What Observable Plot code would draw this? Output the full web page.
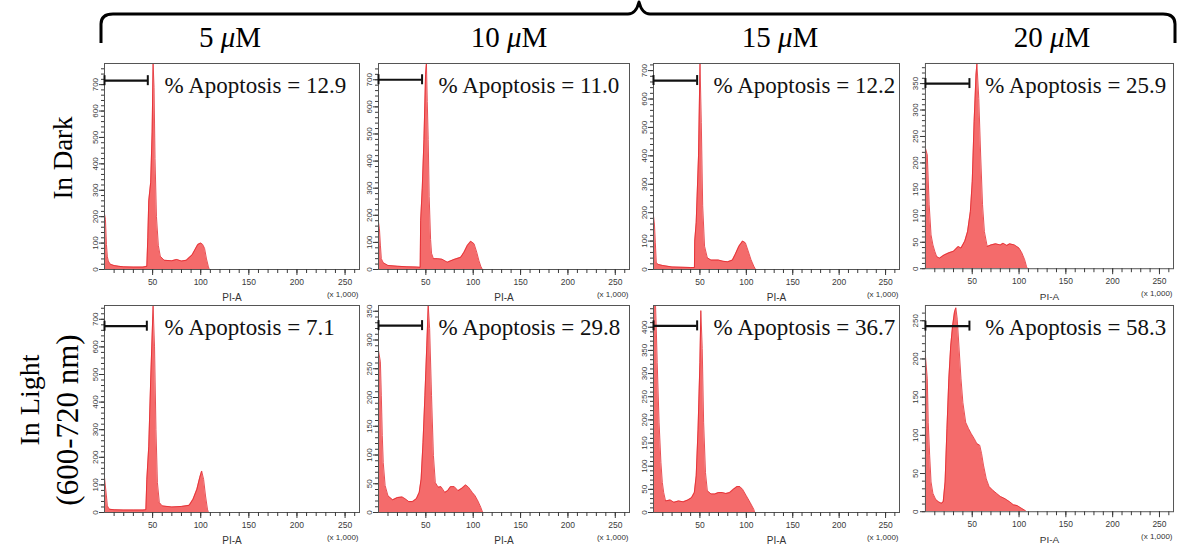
<!DOCTYPE html>
<html><head><meta charset="utf-8">
<script src="https://cdn.jsdelivr.net/npm/d3@7"></script>
<script src="https://cdn.jsdelivr.net/npm/@observablehq/plot@0.6"></script>
<style>
body{margin:0;background:#fff;}
#root{position:relative;width:1177px;height:549px;overflow:hidden;background:#fff;}
.panel{position:absolute;}
.panel svg{overflow:visible;}
#overlay{position:absolute;left:0;top:0;}
</style></head><body><div id="root"></div>
<script>
// ---- labels ----
const concentrations = ["5", "10", "15", "20"];
const conditionDark = "In Dark";
const conditionLight = ["In Light", "(600-720 nm)"];
const apoptosisDark = [12.9, 11.0, 12.2, 25.9];
const apoptosisLight = [7.1, 29.8, 36.7, 58.3];
const yMaxDark = [780, 760, 725, 388];
const yMaxLight = [750, 360, 447, 270];
const yStepDark = [100, 100, 100, 50];
const yStepLight = [100, 50, 50, 50];
const gateEndDark = [45, 46, 47, 47];
const gateEndLight = [44, 46, 47, 47];
const gateYDark = [715, 700, 665, 350];
const gateYLight = [675, 325, 403, 243];
const xTickLabels = [50, 100, 150, 200, 250];

// ---- histograms (PI-A x 1,000 vs count) ----
const piA_dark_5 = [0, 1, 2, 3, 4, 6, 10, 15, 20, 30, 40, 44, 45, 46, 48, 49.5, 50.5, 51.5, 52.5, 54, 56, 58, 62, 70, 75, 80, 85, 88, 91, 94, 97, 100, 102, 104, 106, 108, 109];
const cnt_dark_5 = [210, 190, 95, 48, 32, 20, 15, 12, 10, 9, 9, 12, 120, 260, 330, 520, 780, 690, 420, 200, 90, 50, 35, 33, 38, 32, 35, 45, 55, 75, 95, 100, 95, 80, 40, 10, 0];

const piA_dark_10 = [0, 1, 2, 3, 5, 10, 20, 30, 40, 44, 44.5, 46.2, 48, 49.7, 50.6, 51.5, 52.5, 53.5, 55, 56, 58, 62, 67, 72.7, 79.7, 86.8, 90.3, 93.8, 97.4, 100.9, 103.7, 106, 108, 109.7];
const cnt_dark_10 = [175, 150, 90, 40, 25, 15, 12, 10, 9, 8, 180, 300, 480, 720, 760, 620, 480, 270, 110, 60, 40, 40, 38, 27, 37, 45, 64, 89, 104, 95, 64, 33, 12, 0];

const piA_dark_15 = [0, 1, 2, 3, 5, 10, 20, 40, 44.1, 44.4, 46, 48.5, 50.1, 51.5, 53, 55, 58, 62, 70, 75, 80, 85, 88, 92, 96, 99, 102, 105, 108, 110];
const cnt_dark_15 = [188, 160, 94, 24, 18, 14, 9, 7, 7, 100, 165, 400, 725, 518, 224, 82, 41, 33, 33, 29, 27, 33, 53, 82, 100, 94, 65, 35, 12, 0];

const piA_dark_20 = [0, 2, 4, 6, 8, 10, 12, 15, 20, 25, 30, 35, 38, 42, 45, 48, 50, 52, 54, 55, 57, 59, 61, 63, 66, 70, 75, 80, 83, 87, 90, 95, 100, 103, 106, 108, 109];
const cnt_dark_20 = [228, 215, 121, 64, 45, 33, 23, 20, 26, 30, 33, 42, 39, 52, 70, 108, 165, 278, 366, 388, 322, 215, 121, 70, 42, 45, 47, 45, 48, 44, 47, 45, 39, 30, 17, 4, 0];

const piA_light_5 = [0, 2, 3, 5, 10, 20, 30, 40, 43, 44, 46, 48, 50.5, 52, 53.5, 55, 57, 60, 70, 80, 88, 92, 96, 99, 101, 103, 105, 107, 108];
const cnt_light_5 = [127, 60, 24, 12, 10, 9, 9, 9, 10, 120, 240, 480, 748, 600, 300, 108, 36, 24, 20, 22, 26, 48, 84, 127, 150, 120, 60, 12, 0];

const piA_light_10 = [0, 2, 3, 4, 5, 7, 10, 15, 20, 25, 28, 32, 36, 40, 43, 45, 47, 49, 51, 52.5, 54, 56, 58, 60, 63, 66, 70, 73, 76, 80, 84, 88, 92, 95, 99, 102, 105, 108, 110];
const cnt_light_10 = [282, 262, 203, 134, 87, 47, 29, 22, 26, 27, 24, 19, 19, 24, 35, 58, 122, 203, 291, 360, 320, 203, 99, 52, 44, 45, 35, 38, 45, 45, 38, 42, 48, 44, 35, 29, 20, 9, 0];

const piA_light_15 = [0, 2, 3, 4, 6, 8, 9.5, 11, 13, 18, 22, 27, 32, 37, 41, 44, 46, 48, 50, 51, 52.5, 54, 56, 58, 62, 66, 70, 74, 78, 82, 86, 90, 93, 96, 100, 104, 108, 109];
const cnt_light_15 = [460, 460, 396, 324, 195, 108, 65, 43, 25, 27, 22, 25, 23, 27, 32, 43, 79, 180, 324, 436, 354, 195, 86, 47, 40, 40, 43, 43, 41, 43, 50, 56, 56, 50, 36, 22, 7, 0];

const piA_light_20 = [0, 2, 3, 4.5, 6, 8, 11, 14, 17, 19, 21, 23, 25, 27, 29, 31, 32.5, 34, 36, 38, 40, 43, 46, 49, 52, 55, 58, 60, 62, 65, 68, 72, 76, 80, 85, 90, 94, 98, 102, 106, 108];
const cnt_light_20 = [204, 174, 117, 74, 39, 24, 16, 13, 11, 13, 39, 109, 174, 217, 243, 261, 267, 252, 213, 174, 143, 117, 109, 102, 96, 89, 87, 76, 61, 43, 33, 28, 24, 20, 17, 13, 9, 8, 5, 2, 0];

const darkX = [piA_dark_5, piA_dark_10, piA_dark_15, piA_dark_20];
const darkY = [cnt_dark_5, cnt_dark_10, cnt_dark_15, cnt_dark_20];
const lightX = [piA_light_5, piA_light_10, piA_light_15, piA_light_20];
const lightY = [cnt_light_5, cnt_light_10, cnt_light_15, cnt_light_20];

// ---- layout ----
const colLeft = [104, 378, 653, 925];
const colRight = [359, 629, 899, 1174];
const rowTop = [63, 305];
const rowBottom = [269, 512];
const mL = 18, mR = 4, mT = 4, mB = 38;

const root = document.getElementById("root");

function panel(xs, ys, yMax, yStep, gateEnd, gateY, pct, r, c) {
  const data = xs.map((x, i) => ({x, y: ys[i]}));
  const fw = colRight[c] - colLeft[c], fh = rowBottom[r] - rowTop[r];
  const minor = yStep === 100 ? 20 : 10;
  const capH = yMax * 5 / fh;
  const tickCol = "#3a3a3a";
  const svg = Plot.plot({
    width: fw + mL + mR, height: fh + mT + mB,
    marginLeft: mL, marginRight: mR, marginTop: mT, marginBottom: mB,
    style: {fontFamily: "'Liberation Sans', Arial, sans-serif", background: "transparent", overflow: "visible"},
    x: {domain: [0, 265], label: null},
    y: {domain: [0, yMax], label: null},
    marks: [
      Plot.areaY(data, {x: "x", y: "y", fill: "#f46b6b", clip: true}),
      Plot.lineY(data, {x: "x", y: "y", stroke: "#e2262c", strokeWidth: 0.8, clip: true}),
      Plot.frame({stroke: "#555", strokeWidth: 1}),
      Plot.axisX({ticks: d3.range(10, 261, 10), tickSize: 4, tickFormat: () => "", stroke: tickCol, label: null}),
      Plot.axisX({ticks: xTickLabels, tickSize: 6, tickPadding: 3, fontSize: 8.5, fill: tickCol, stroke: tickCol, label: null}),
      Plot.axisY({ticks: d3.range(0, yMax, minor), tickSize: 3, tickFormat: () => "", stroke: tickCol, label: null}),
      Plot.axisY({ticks: d3.range(0, yMax, yStep), tickSize: 5, tickPadding: 2, tickRotate: -90, fontSize: 8, fill: tickCol, stroke: tickCol, label: null}),
      Plot.text(["PI-A"], {frameAnchor: "bottom", dy: 28, lineAnchor: "middle", fontSize: 10, fill: "#333"}),
      Plot.text(["(x 1,000)"], {frameAnchor: "bottom-right", dy: 25, dx: -1, lineAnchor: "middle", textAnchor: "end", fontSize: 8, fill: "#333"}),
      Plot.ruleY([gateY], {x1: 0, x2: gateEnd, stroke: "#111", strokeWidth: 2.2}),
      Plot.ruleX([0, gateEnd], {y1: gateY - capH, y2: gateY + capH, stroke: "#111", strokeWidth: 2}),
      Plot.text([pct], {frameAnchor: "top-left", dx: 60, dy: 22, lineAnchor: "middle", textAnchor: "start", text: d => `% Apoptosis = ${d.toFixed(1)}`,
        fontFamily: "'Liberation Serif', 'Times New Roman', serif", fontSize: 23, fill: "#111"})
    ]
  });
  const div = document.createElement("div");
  div.className = "panel";
  div.style.left = (colLeft[c] - mL) + "px";
  div.style.top = (rowTop[r] - mT) + "px";
  div.appendChild(svg);
  root.appendChild(div);
}

for (let c = 0; c < 4; c++) {
  panel(darkX[c], darkY[c], yMaxDark[c], yStepDark[c], gateEndDark[c], gateYDark[c], apoptosisDark[c], 0, c);
  panel(lightX[c], lightY[c], yMaxLight[c], yStepLight[c], gateEndLight[c], gateYLight[c], apoptosisLight[c], 1, c);
}

// ---- overlay: brace, column headers, row labels ----
const ov = d3.select(root).append("svg").attr("id", "overlay").attr("width", 1177).attr("height", 549)
  .style("pointer-events", "none");
ov.append("path")
  .attr("d", "M101,43 L101,24 Q101,14 113,14 L628,14 Q636,14 639,2 Q642,14 650,14 L1163,14 Q1175,14 1175,24 L1175,43")
  .attr("fill", "none").attr("stroke", "#000").attr("stroke-width", 3).attr("stroke-linejoin", "round");
const headerX = [230, 509, 780, 1052];
concentrations.forEach((t, i) => {
  const tx = ov.append("text").attr("x", headerX[i]).attr("y", 47).attr("text-anchor", "middle")
    .attr("font-family", "'Liberation Serif', 'Times New Roman', serif").attr("font-size", 29).attr("fill", "#000");
  tx.append("tspan").text(t + " ");
  tx.append("tspan").attr("font-style", "italic").text("μ");
  tx.append("tspan").text("M");
});
ov.append("text").attr("transform", "translate(72,158) rotate(-90)").attr("text-anchor", "middle")
  .attr("font-family", "'Liberation Serif', 'Times New Roman', serif").attr("font-size", 27).text(conditionDark);
ov.append("text").attr("transform", "translate(39,400) rotate(-90)").attr("text-anchor", "middle")
  .attr("font-family", "'Liberation Serif', 'Times New Roman', serif").attr("font-size", 28).text(conditionLight[0]);
ov.append("text").attr("transform", "translate(78,420) rotate(-90)").attr("text-anchor", "middle")
  .attr("font-family", "'Liberation Serif', 'Times New Roman', serif").attr("font-size", 31).text(conditionLight[1]);
</script>
</body></html>
